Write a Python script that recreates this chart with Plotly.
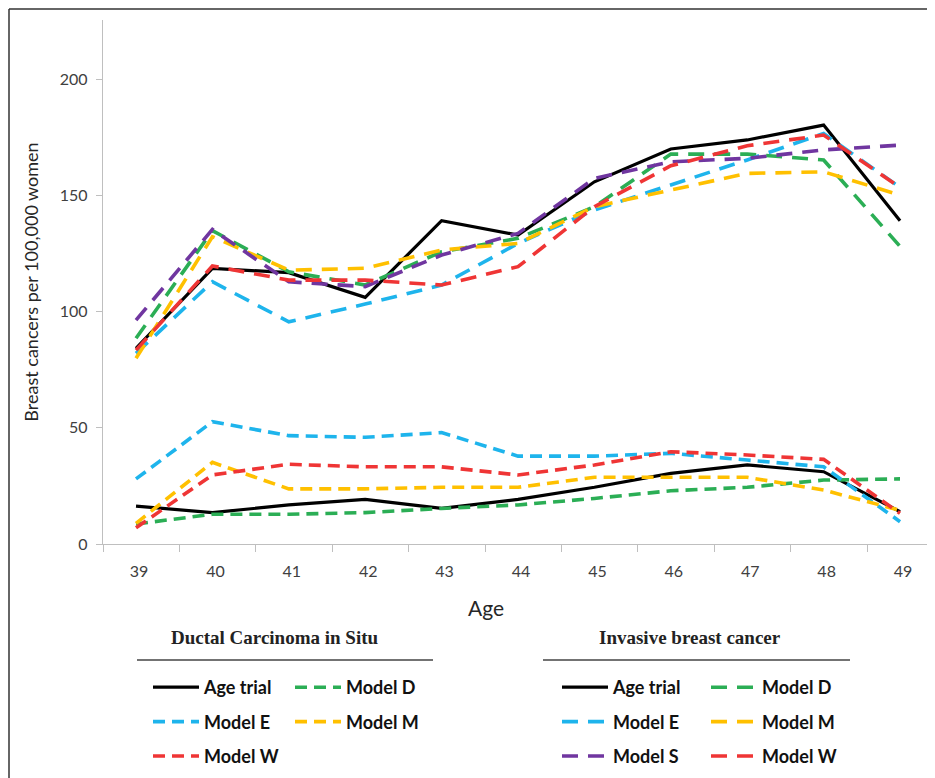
import plotly.graph_objects as go

ages = [39, 40, 41, 42, 43, 44, 45, 46, 47, 48, 49]

# Ductal Carcinoma in Situ
dcis_age_trial = [16.3, 13.5, 16.8, 19.2, 15.3, 19.2, 24.4, 30.4, 34.0, 31.1, 13.9]
dcis_model_d = [8.6, 12.8, 12.8, 13.5, 15.3, 16.8, 19.6, 22.9, 24.4, 27.5, 28.0]
dcis_model_e = [28.0, 52.6, 46.6, 45.9, 47.9, 37.8, 37.8, 39.0, 36.1, 33.2, 9.6]
dcis_model_m = [8.9, 35.1, 23.7, 23.7, 24.4, 24.4, 28.7, 28.7, 28.7, 23.2, 14.5]
dcis_model_w = [7.0, 29.7, 34.3, 33.2, 33.2, 29.7, 34.0, 39.7, 38.3, 36.4, 13.2]

# Invasive breast cancer
inv_age_trial = [84.2, 118.6, 116.7, 106.1, 139.1, 132.9, 155.8, 169.9, 173.8, 180.2, 139.1]
inv_model_d = [88.5, 134.8, 117.1, 111.4, 125.7, 131.5, 145.1, 167.7, 167.7, 165.2, 128.0]
inv_model_e = [82.0, 112.8, 95.6, 103.2, 111.4, 129.3, 143.7, 154.4, 165.2, 176.6, 153.4]
inv_model_m = [79.9, 132.2, 117.8, 118.6, 126.5, 129.3, 145.1, 152.3, 159.4, 160.1, 150.1]
inv_model_s = [96.3, 135.3, 112.8, 110.7, 124.3, 133.6, 157.3, 164.4, 165.9, 169.5, 171.6]
inv_model_w = [83.4, 119.6, 113.5, 113.5, 111.4, 119.3, 145.1, 162.7, 171.3, 175.9, 153.4]

y_ticks = [0, 50, 100, 150, 200]

BLACK = "#000000"
GREEN = "#2BAE55"
BLUE = "#1EB4EC"
ORANGE = "#FFC000"
RED = "#EF3535"
PURPLE = "#7036A0"

DASH_DCIS = "12px,7px"
DASH_INV = "16px,10px"
LW = 3.6

# page offset of the figure inside the html body
OFF = 8
W, H = 935 - OFF, 778 - OFF
# plot area in page pixels: x 103..927, y 20..544
ML, MT = 103 - OFF, 20 - OFF
MR = W - (927 - OFF)
MB = H - (544 - OFF)
PW, PH = W - ML - MR, H - MT - MB

def px_x(px):
    return (px - OFF - ML) / PW

def px_y(py):
    return (H - MB - (py - OFF)) / PH

fig = go.Figure()

def add(name, y, color, dash, legend, group):
    fig.add_trace(go.Scatter(
        x=ages, y=y, name=name, mode="lines",
        line=dict(color=color, width=3.2 if dash == "solid" else LW, dash=dash),
        legend=legend, legendgroup=group, hoverinfo="skip",
    ))

# DCIS
add("Age trial", dcis_age_trial, BLACK, "solid", "legend", "d1")
add("Model D", dcis_model_d, GREEN, DASH_DCIS, "legend2", "d2")
add("Model E", dcis_model_e, BLUE, DASH_DCIS, "legend", "d3")
add("Model M", dcis_model_m, ORANGE, DASH_DCIS, "legend2", "d4")
add("Model W", dcis_model_w, RED, DASH_DCIS, "legend", "d5")
# Invasive
add("Age trial", inv_age_trial, BLACK, "solid", "legend3", "i1")
add("Model D", inv_model_d, GREEN, DASH_INV, "legend4", "i2")
add("Model E", inv_model_e, BLUE, DASH_INV, "legend3", "i3")
add("Model M", inv_model_m, ORANGE, DASH_INV, "legend4", "i4")
add("Model S", inv_model_s, PURPLE, DASH_INV, "legend3", "i5")
add("Model W", inv_model_w, RED, DASH_INV, "legend4", "i6")

leg_font = dict(family="Lato", size=18, color="#111111", weight="bold")

def leg(xpx, ypx):
    return dict(
        x=px_x(xpx), y=px_y(ypx), xref="paper", yref="paper",
        xanchor="left", yanchor="top", orientation="v",
        font=leg_font, itemwidth=46, tracegroupgap=8,
        bgcolor="rgba(0,0,0,0)", borderwidth=0,
    )

fig.update_layout(
    width=W, height=H,
    paper_bgcolor="white", plot_bgcolor="white",
    margin=dict(l=ML, r=MR, t=MT, b=MB, autoexpand=False),
    showlegend=True,
    legend=leg(148, 669),
    legend2=leg(290, 669),
    legend3=leg(557, 669),
    legend4=leg(706, 669),
    xaxis=dict(
        range=[38.568, 49.353], tickmode="array", tickvals=ages,
        ticktext=[str(a) for a in ages], ticks="", showgrid=False, zeroline=False,
        showline=True, linecolor="#BFBFBF", linewidth=1.3,
        tickfont=dict(family="Lato", size=16, color="#404040"),
        ticklabelshift=3, ticklabelstandoff=13,
        minor=dict(tick0=38.568, dtick=1, ticks="outside", ticklen=7,
                   tickcolor="#BFBFBF", tickwidth=1.3, showgrid=False),
    ),
    yaxis=dict(
        range=[0, 225.4], tickmode="array", tickvals=y_ticks,
        ticks="outside", ticklen=6, tickcolor="#BFBFBF", tickwidth=1.3,
        showgrid=False, zeroline=False, showline=True, linecolor="#BFBFBF", linewidth=1.3,
        tickfont=dict(family="Lato", size=16, color="#404040"),
        ticklabelstandoff=5,
        title=dict(text="Breast cancers per 100,000 women",
                   font=dict(family="Lato", size=18, color="#262626"), standoff=16),
    ),
)

# x-axis title (sits left of the plot-area centre in the original)
fig.add_annotation(text="Age", xref="paper", yref="paper",
                   x=px_x(486), y=px_y(607), showarrow=False,
                   font=dict(family="Lato", size=21, color="#262626"),
                   xanchor="center", yanchor="middle")

title_font = dict(family="Liberation Serif", size=19, color="#222222", weight="bold")
fig.add_annotation(text="Ductal Carcinoma in Situ", xref="paper", yref="paper",
                   x=px_x(275), y=px_y(637), showarrow=False,
                   font=title_font, xanchor="center", yanchor="middle")
fig.add_annotation(text="Invasive breast cancer", xref="paper", yref="paper",
                   x=px_x(690), y=px_y(637), showarrow=False,
                   font=title_font, xanchor="center", yanchor="middle")

def px_line(x0, y0, x1, y1, color, width):
    fig.add_shape(type="line", xref="paper", yref="paper",
                  x0=px_x(x0), x1=px_x(x1), y0=px_y(y0), y1=px_y(y1),
                  line=dict(color=color, width=width))

# underlines beneath the legend titles
px_line(137, 660, 433, 660, "#444444", 1.5)
px_line(543, 660, 850, 660, "#444444", 1.5)
# outer frame (top and left edges), as close to the page corner as the figure allows
px_line(OFF + 1, OFF + 1, 935, OFF + 1, "#333333", 1.5)
px_line(OFF + 1, OFF + 1, OFF + 1, 778, "#333333", 1.5)

fig.write_html("out.html")
